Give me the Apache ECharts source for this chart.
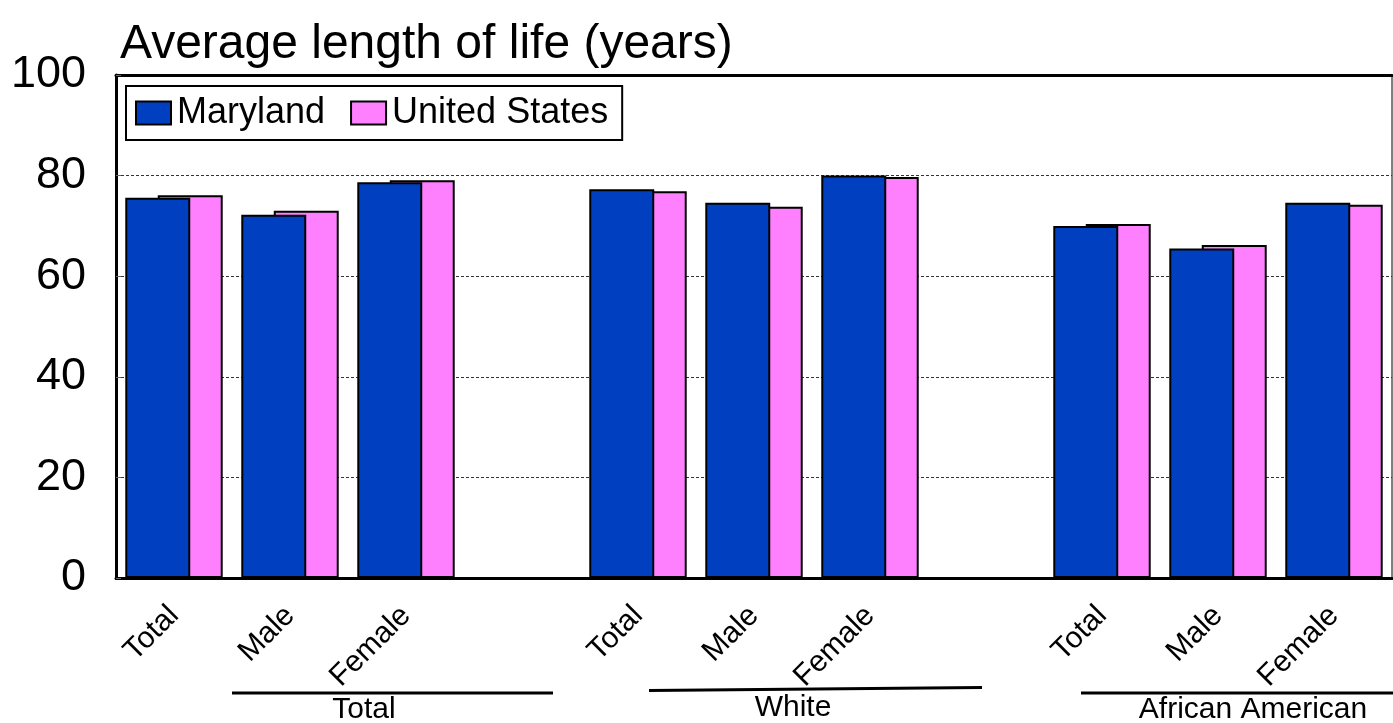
<!DOCTYPE html>
<html>
<head>
<meta charset="utf-8">
<script src="https://cdn.jsdelivr.net/npm/echarts@6/dist/echarts.min.js"></script>
<style>
html,body{margin:0;padding:0;background:#fff;}
#chart{width:1393px;height:723px;}
</style>
</head>
<body>
<div id="chart"></div>
<script>
const categories = ['Total','Male','Female','','Total','Male','Female','','Total','Male','Female'];
const marylandValues = [75.6, 72.2, 78.7, null, 77.3, 74.6, 80.0, null, 70.0, 65.5, 74.6];
const usValues = [76.1, 73.0, 79.1, null, 76.9, 73.8, 79.7, null, 70.4, 66.2, 74.2];
const seriesNames = ['Maryland', 'United States'];
const yTicks = [0, 20, 40, 60, 80, 100];
const groupLabels = ['Total', 'White', 'African American'];
const titleText = 'Average length of life (years)';

const FONT = "'Liberation Sans', Arial, sans-serif";
const chart = echarts.init(document.getElementById('chart'), null, {renderer: 'canvas'});

const option = {
  animation: false,
  backgroundColor: '#fff',
  title: {
    text: titleText,
    left: 115, top: 16,
    textStyle: {fontFamily: FONT, fontSize: 48, fontWeight: 'normal', color: '#000'}
  },
  legend: {
    data: seriesNames,
    left: 126, top: 86,
    orient: 'horizontal',
    itemWidth: 35, itemHeight: 23, itemGap: 25,
    padding: [9, 14, 9, 9],
    borderColor: '#000', borderWidth: 2,
    icon: 'rect',
    textStyle: {fontFamily: FONT, fontSize: 36, color: '#000', lineHeight: 36, padding: [0,0,0,1]}
  },
  grid: {
    left: 116, right: 1, top: 75, bottom: 145,
    show: true, borderColor: '#000', borderWidth: 1, backgroundColor: 'transparent'
  },
  xAxis: [{
    type: 'category',
    data: categories,
    axisLine: {show: true, lineStyle: {color: '#000', width: 3}},
    axisTick: {show: false},
    axisLabel: {
      interval: 0, rotate: 45, margin: 33,
      fontFamily: FONT, fontSize: 30, color: '#000',
      formatter: (v, i) => categories[i]
    },
    splitLine: {show: false}
  }, {
    type: 'category',
    data: categories,
    position: 'top',
    axisLine: {show: true, lineStyle: {color: '#000', width: 3}},
    axisTick: {show: false},
    axisLabel: {show: false}
  }],
  yAxis: {
    type: 'value',
    min: yTicks[0], max: yTicks[yTicks.length - 1], interval: 20,
    axisLine: {show: true, lineStyle: {color: '#000', width: 3}},
    axisTick: {show: true, inside: true, length: 5, lineStyle: {color: '#666', width: 1}},
    axisLabel: {fontFamily: FONT, fontSize: 45, color: '#000', margin: 30},
    splitLine: {show: true, lineStyle: {color: '#333', width: 1, type: [3, 2]}}
  },
  series: [{
    name: seriesNames[0],
    type: 'bar',
    data: marylandValues,
    barWidth: '56%',
    barGap: '-50%',
    z: 4,
    itemStyle: {color: '#0040C0', borderColor: '#000', borderWidth: 2}
  }, {
    name: seriesNames[1],
    type: 'bar',
    data: usValues,
    barWidth: '56%',
    barGap: '-50%',
    z: 3,
    itemStyle: {color: '#FF80FF', borderColor: '#000', borderWidth: 2}
  }],
  graphic: [
    {type: 'line', shape: {x1: 232, y1: 693, x2: 553, y2: 693}, style: {stroke: '#000', lineWidth: 3}},
    {type: 'line', shape: {x1: 649, y1: 690.5, x2: 982, y2: 687.5}, style: {stroke: '#000', lineWidth: 3}},
    {type: 'line', shape: {x1: 1081, y1: 693, x2: 1393, y2: 693}, style: {stroke: '#000', lineWidth: 3}},
    {type: 'text', x: 364, y: 710, style: {text: groupLabels[0], font: "30px 'Liberation Sans', Arial", fill: '#000', textAlign: 'center', textVerticalAlign: 'middle'}},
    {type: 'text', x: 793, y: 708, style: {text: groupLabels[1], font: "30px 'Liberation Sans', Arial", fill: '#000', textAlign: 'center', textVerticalAlign: 'middle'}},
    {type: 'text', x: 1253, y: 710, style: {text: groupLabels[2], font: "30px 'Liberation Sans', Arial", fill: '#000', textAlign: 'center', textVerticalAlign: 'middle'}}
  ]
};
chart.setOption(option);
</script>
</body>
</html>
